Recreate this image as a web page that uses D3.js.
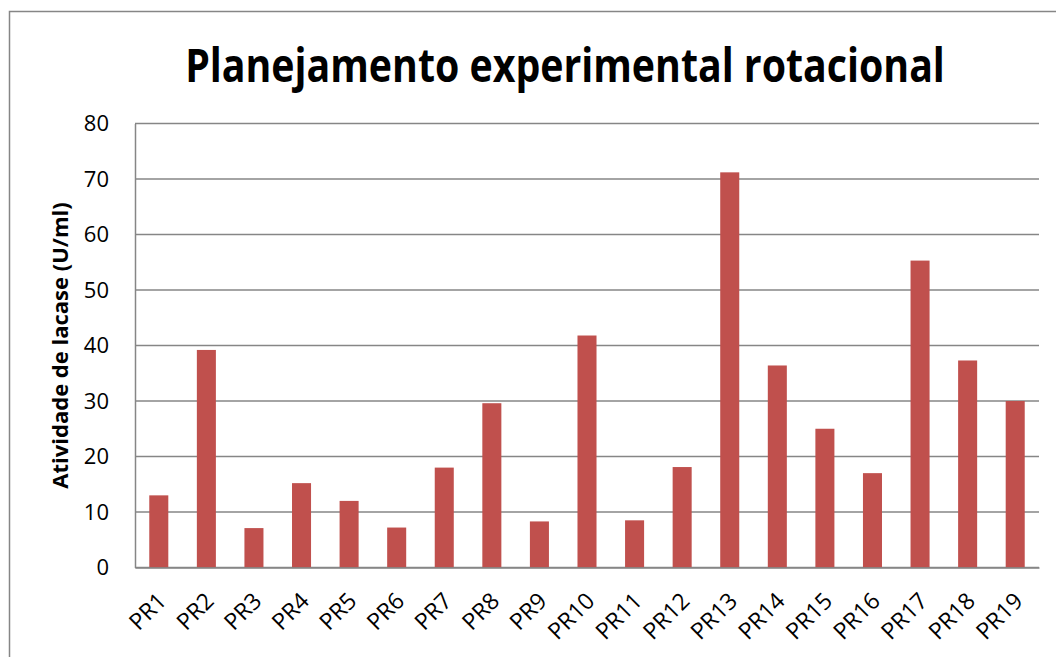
<!DOCTYPE html>
<html>
<head>
<meta charset="utf-8">
<script src="https://cdn.jsdelivr.net/npm/d3@7"></script>
<style>
  html, body { margin: 0; padding: 0; background: #fff; overflow: hidden; }
  text { font-family: "Open Sans", "Noto Sans", sans-serif; fill: #000; }
</style>
</head>
<body>
<script>
// categorias e valores (atividade de lacase, U/ml)
const categories = ["PR1", "PR2", "PR3", "PR4", "PR5", "PR6", "PR7", "PR8", "PR9", "PR10",
  "PR11", "PR12", "PR13", "PR14", "PR15", "PR16", "PR17", "PR18", "PR19"];
const values = [13.0, 39.2, 7.1, 15.2, 12.0, 7.2, 18.0, 29.6, 8.3, 41.8,
  8.5, 18.1, 71.2, 36.4, 25.0, 17.0, 55.3, 37.3, 30.0];
const yTicks = [0, 10, 20, 30, 40, 50, 60, 70, 80];

const W = 1056, H = 657;
const plot = { left: 135, right: 1039, top: 123.5, bottom: 567.5 };
const gray = "#868686";

const svg = d3.select("body").append("svg").attr("width", W).attr("height", H);

// moldura externa do gráfico
svg.append("rect")
  .attr("x", 9.5).attr("y", 11.5)
  .attr("width", 1100).attr("height", 700)
  .attr("fill", "#fff").attr("stroke", gray).attr("stroke-width", 1.5);

const x = d3.scaleBand().domain(categories).range([plot.left, plot.right])
  .paddingInner(0.6).paddingOuter(0.3);
const y = d3.scaleLinear().domain([0, 80]).range([plot.bottom, plot.top]);

// linhas de grade
svg.append("g")
  .selectAll("line")
  .data(yTicks)
  .join("line")
  .attr("x1", plot.left).attr("x2", plot.right)
  .attr("y1", (d) => y(d)).attr("y2", (d) => y(d))
  .attr("stroke", gray).attr("stroke-width", 1.5);

// eixo y
const yAxis = svg.append("g")
  .attr("transform", `translate(${plot.left},0)`)
  .call(d3.axisLeft(y).tickValues(yTicks).tickSize(0).tickPadding(26));
yAxis.select(".domain").attr("stroke", gray).attr("stroke-width", 1.5);
yAxis.selectAll("text")
  .attr("font-size", 22)
  .attr("font-family", "'Open Sans', sans-serif")
  .attr("fill", "#000");

// barras
svg.append("g")
  .selectAll("rect")
  .data(values)
  .join("rect")
  .attr("x", (d, i) => x(categories[i]))
  .attr("y", (d) => y(d))
  .attr("width", x.bandwidth())
  .attr("height", (d) => y(0) - y(d))
  .attr("fill", "#C0504D");

// eixo x
const xAxis = svg.append("g")
  .attr("transform", `translate(0,${plot.bottom})`)
  .call(d3.axisBottom(x).tickSize(0).tickPadding(0));
xAxis.select(".domain").attr("stroke", gray).attr("stroke-width", 1.5);
xAxis.selectAll("text")
  .attr("font-size", 23)
  .attr("font-family", "'Open Sans', sans-serif")
  .attr("fill", "#000")
  .attr("text-anchor", "end")
  .attr("dy", null)
  .attr("y", 0)
  .attr("transform", "translate(9,35) rotate(-45)");

// texto comprimido na horizontal (fonte tipo Calibri é mais estreita)
const narrowText = (g, str, size, width) => {
  const t = g.append("text")
    .attr("text-anchor", "middle")
    .attr("font-size", size)
    .attr("font-weight", "bold")
    .text(str);
  const sx = Math.min(1, width / t.node().getComputedTextLength());
  t.attr("transform", `scale(${sx},1)`);
  return t;
};

// título
narrowText(svg.append("g").attr("transform", "translate(565,82)"),
  "Planejamento experimental rotacional", 46, 760);

// título do eixo y
narrowText(svg.append("g")
  .attr("transform", `translate(68,${(plot.top + plot.bottom) / 2}) rotate(-90)`),
  "Atividade de lacase (U/ml)", 22, 292);
</script>
</body>
</html>
